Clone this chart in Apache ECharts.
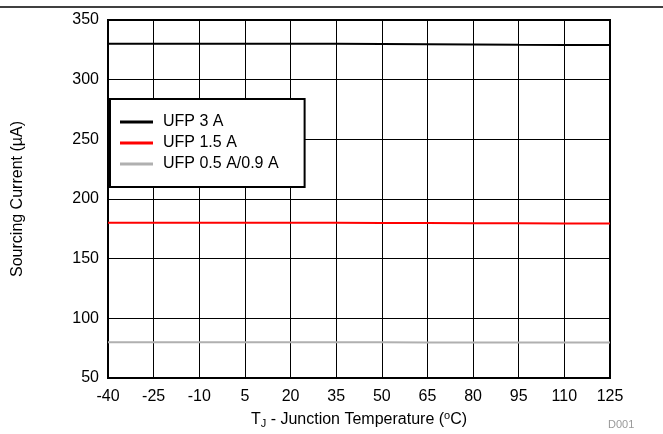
<!DOCTYPE html>
<html>
<head>
<meta charset="utf-8">
<script src="https://cdn.jsdelivr.net/npm/echarts@6/dist/echarts.min.js"></script>
<style>
  html, body { margin: 0; padding: 0; background: #fff; }
  #chart { width: 663px; height: 434px; }
</style>
</head>
<body>
<div id="chart"></div>
<script>
// junction temperature points (deg C)
var temps = ['-40', '-25', '-10', '5', '20', '35', '50', '65', '80', '95', '110', '125'];
// sourcing current, uA
var ufp3A   = [330, 330, 330.1, 330.2, 330.1, 330, 329.8, 329.6, 329.4, 329.2, 329.1, 329];
var ufp15A  = [180, 180, 180.1, 180.2, 180.1, 180, 179.9, 179.8, 179.7, 179.6, 179.5, 179.5];
var ufp05A  = [80, 80, 80, 80, 80, 79.9, 79.9, 79.8, 79.8, 79.7, 79.7, 79.7];
var seriesNames = ['UFP 3 A', 'UFP 1.5 A', 'UFP 0.5 A/0.9 A'];

var chart = echarts.init(document.getElementById('chart'));
var font = 'Liberation Sans, Arial, sans-serif';

function line(name, data, color) {
  return {
    name: name,
    type: 'line',
    data: data,
    symbol: 'none',
    silent: true,
    lineStyle: { color: color, width: 2 },
    itemStyle: { color: color }
  };
}

chart.setOption({
  animation: false,
  grid: {
    left: 108, right: 53, top: 20, bottom: 56,
    show: true, borderColor: '#000', borderWidth: 2
  },
  legend: {
    data: seriesNames,
    orient: 'vertical',
    left: 110, top: 99,
    icon: 'rect',
    padding: [15, 26, 15, 10],
    itemWidth: 33, itemHeight: 3, itemGap: 5,
    backgroundColor: '#fff',
    borderColor: '#000', borderWidth: 2,
    textStyle: { fontFamily: font, fontSize: 16, lineHeight: 16, color: '#000', padding: [0, 0, 0, 5] }
  },
  xAxis: {
    type: 'category',
    data: temps,
    boundaryGap: false,
    axisLine: { lineStyle: { color: '#000', width: 2 } },
    axisTick: { show: false },
    axisLabel: { color: '#000', fontFamily: font, fontSize: 16, margin: 11 },
    splitLine: { show: true, lineStyle: { color: '#000', width: 1 } },
    name: 'T{sub|J} - Junction Temperature ({sup|o}C)',
    nameLocation: 'middle',
    nameGap: 32,
    nameTextStyle: {
      color: '#000', fontFamily: font, fontSize: 16,
      rich: {
        sub: { fontSize: 11, verticalAlign: 'bottom', padding: [8, 0, 0, 0], fontFamily: font, color: '#000' },
        sup: { fontSize: 11, verticalAlign: 'top', padding: [0, 0, 8, 0], fontFamily: font, color: '#000' }
      }
    }
  },
  yAxis: {
    type: 'value',
    min: 50, max: 350, interval: 50,
    axisLine: { show: true, lineStyle: { color: '#000', width: 2 } },
    axisTick: { show: false },
    axisLabel: { color: '#000', fontFamily: font, fontSize: 16, margin: 9 },
    splitLine: { show: true, lineStyle: { color: '#000', width: 1 } },
    name: 'Sourcing Current (\u00b5A)',
    nameLocation: 'middle',
    nameGap: 82,
    nameTextStyle: { color: '#000', fontFamily: font, fontSize: 16 }
  },
  graphic: [
    { type: 'line', shape: { x1: 0, y1: 7, x2: 663, y2: 7 }, style: { stroke: '#000', lineWidth: 1.5 } },
    { type: 'text', left: 608, top: 419, style: { text: 'D001', fill: '#999', font: '11px ' + font } }
  ],
  series: [
    line(seriesNames[0], ufp3A, '#000'),
    line(seriesNames[1], ufp15A, '#ff0000'),
    line(seriesNames[2], ufp05A, '#b0b0b0')
  ]
});
</script>
</body>
</html>
